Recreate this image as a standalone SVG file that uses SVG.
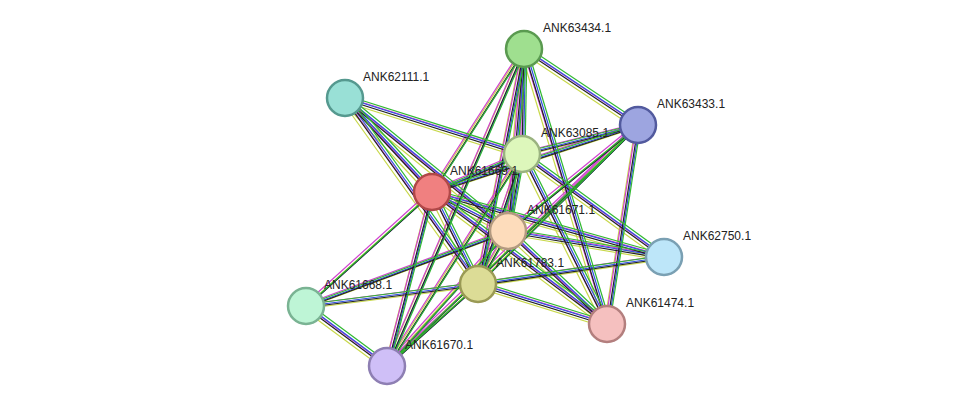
<svg xmlns="http://www.w3.org/2000/svg" xmlns:xlink="http://www.w3.org/1999/xlink" width="975" height="412" viewBox="0 0 975 412">
<style>
.n{stroke-width:2.5}
text{font-family:"Liberation Sans",Arial,sans-serif;font-size:12px;fill:#222}
</style>
<defs>
<g id="E" fill="none" stroke-width="1.2">
<line x1="524" y1="49" x2="638" y2="125"/><line x1="524" y1="49" x2="522" y2="154"/><line x1="524" y1="49" x2="432" y2="192"/><line x1="524" y1="49" x2="508" y2="231"/><line x1="524" y1="49" x2="478" y2="284"/><line x1="524" y1="49" x2="607" y2="324"/><line x1="524" y1="49" x2="387" y2="366"/>
<line x1="345" y1="98" x2="522" y2="154"/><line x1="345" y1="98" x2="432" y2="192"/><line x1="345" y1="98" x2="508" y2="231"/><line x1="345" y1="98" x2="478" y2="284"/>
<line x1="638" y1="125" x2="522" y2="154"/><line x1="638" y1="125" x2="432" y2="192"/><line x1="638" y1="125" x2="508" y2="231"/><line x1="638" y1="125" x2="478" y2="284"/><line x1="638" y1="125" x2="607" y2="324"/><line x1="638" y1="125" x2="387" y2="366"/>
<line x1="522" y1="154" x2="432" y2="192"/><line x1="522" y1="154" x2="508" y2="231"/><line x1="522" y1="154" x2="478" y2="284"/><line x1="522" y1="154" x2="664" y2="257"/><line x1="522" y1="154" x2="607" y2="324"/><line x1="522" y1="154" x2="387" y2="366"/>
<line x1="432" y1="192" x2="508" y2="231"/><line x1="432" y1="192" x2="478" y2="284"/><line x1="432" y1="192" x2="664" y2="257"/><line x1="432" y1="192" x2="607" y2="324"/><line x1="432" y1="192" x2="306" y2="306"/><line x1="432" y1="192" x2="387" y2="366"/>
<line x1="508" y1="231" x2="478" y2="284"/><line x1="508" y1="231" x2="664" y2="257"/><line x1="508" y1="231" x2="607" y2="324"/><line x1="508" y1="231" x2="387" y2="366"/><line x1="508" y1="231" x2="306" y2="306"/>
<line x1="478" y1="284" x2="664" y2="257"/><line x1="478" y1="284" x2="607" y2="324"/><line x1="478" y1="284" x2="306" y2="306"/><line x1="478" y1="284" x2="387" y2="366"/>
<line x1="306" y1="306" x2="387" y2="366"/>
</g>
</defs>
<g id="connectors">
<use xlink:href="#E" stroke="#c8d84a" transform="translate(-3,3)"/>
<use xlink:href="#E" stroke="#d040d0" transform="translate(-1.5,-1.5)"/>
<use xlink:href="#E" stroke="#3050e0" transform="translate(1.5,0)"/>
<use xlink:href="#E" stroke="#222" transform="translate(0,1.5)"/>
<use xlink:href="#E" stroke="#30b830" transform="translate(3,-2)"/>
</g>
<g id="ANK63434.1"><circle class="n" cx="524" cy="49" r="18" fill="#9fdf8f" stroke="#5a9a50"/><text x="543" y="32">ANK63434.1</text></g>
<g id="ANK62111.1"><circle class="n" cx="345" cy="98" r="18" fill="#99e0d6" stroke="#55998f"/><text x="363" y="81">ANK62111.1</text></g>
<g id="ANK63433.1"><circle class="n" cx="638" cy="125" r="18" fill="#9da5e0" stroke="#525a9e"/><text x="657" y="108">ANK63433.1</text></g>
<g id="ANK63085.1"><circle class="n" cx="522" cy="154" r="18" fill="#ddf7bb" stroke="#9ab380"/><text x="541" y="137">ANK63085.1</text></g>
<g id="ANK61669.1"><circle class="n" cx="432" cy="192" r="18" fill="#f08080" stroke="#b04848"/><text x="450" y="175">ANK61669.1</text></g>
<g id="ANK61671.1"><circle class="n" cx="508" cy="231" r="18" fill="#fddcbb" stroke="#b39a80"/><text x="527" y="214">ANK61671.1</text></g>
<g id="ANK62750.1"><circle class="n" cx="664" cy="257" r="18" fill="#bde6f9" stroke="#7aa0b3"/><text x="683" y="240">ANK62750.1</text></g>
<g id="ANK61783.1"><circle class="n" cx="478" cy="284" r="18" fill="#dcdc96" stroke="#9a9a55"/><text x="496" y="267">ANK61783.1</text></g>
<g id="ANK61668.1"><circle class="n" cx="306" cy="306" r="18" fill="#bef5d6" stroke="#7ab393"/><text x="324" y="289">ANK61668.1</text></g>
<g id="ANK61474.1"><circle class="n" cx="607" cy="324" r="18" fill="#f5c0bf" stroke="#b37f7e"/><text x="626" y="307">ANK61474.1</text></g>
<g id="ANK61670.1"><circle class="n" cx="387" cy="366" r="18" fill="#cfbff7" stroke="#8e7fb3"/><text x="405" y="349">ANK61670.1</text></g>
</svg>
